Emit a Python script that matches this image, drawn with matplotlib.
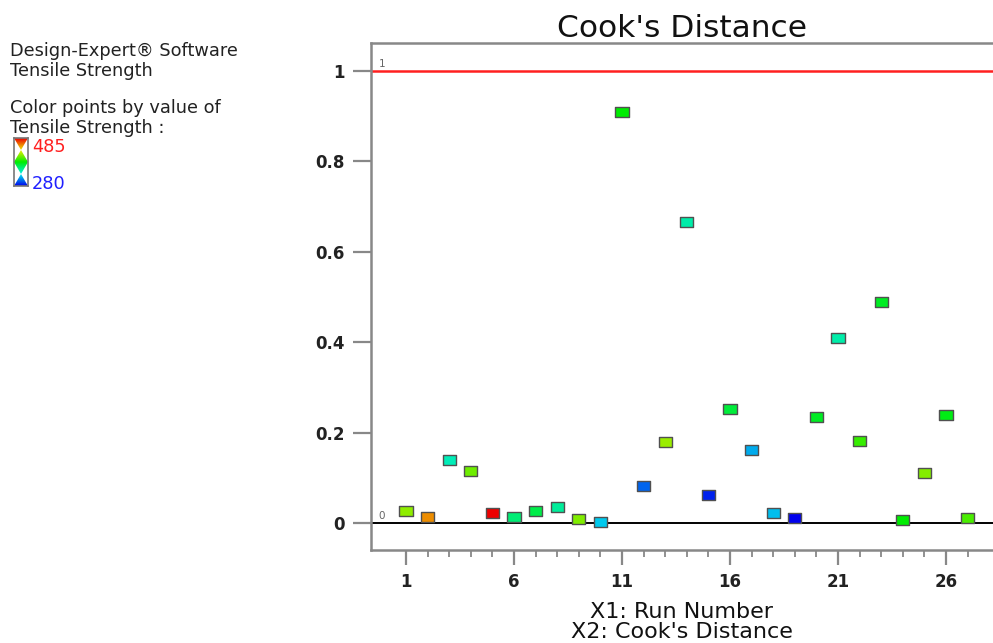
import colorsys
import numpy as np
import matplotlib
matplotlib.use("Agg")
import matplotlib.pyplot as plt
from matplotlib.colors import ListedColormap
from matplotlib.path import Path
from matplotlib.patches import PathPatch

# ---------------- data ----------------
run_number = list(range(1, 28))
cooks_distance = [0.027, 0.013, 0.140, 0.114, 0.022, 0.013, 0.027, 0.035, 0.008, 0.003,
                  0.909, 0.082, 0.180, 0.666, 0.062, 0.252, 0.161, 0.022, 0.011, 0.235,
                  0.409, 0.181, 0.489, 0.007, 0.110, 0.239, 0.011]
tensile_strength = [413, 454, 343, 406, 485, 357, 367, 349, 410, 324,
                    382, 302, 416, 346, 288, 370, 317, 321, 280, 375,
                    346, 394, 375, 382, 411, 378, 398]
strength_min, strength_max = 280, 485
x_ticks = [1, 6, 11, 16, 21, 26]
y_ticks = [0, 0.2, 0.4, 0.6, 0.8, 1]
y_tick_labels = ["0", "0.2", "0.4", "0.6", "0.8", "1"]
limit_upper = 1
limit_lower = 0

# ---------------- style ----------------
plt.rcParams['font.family'] = ['DejaVu Sans']
W, H = 993, 643
fig = plt.figure(figsize=(W / 100, H / 100), dpi=100)

def fx(px):
    return px / W

def fy(py):
    return 1 - py / H

# colour map: blue -> cyan -> green -> yellow -> red
hues = np.linspace(240 / 360, 0, 256)
cmap = ListedColormap([colorsys.hsv_to_rgb(h, 1.0, 0.93) for h in hues])

ax_left, ax_right, ax_top, ax_bottom = 371, 993, 43, 550
ax = fig.add_axes([fx(ax_left), fy(ax_bottom), fx(ax_right) - fx(ax_left),
                   fy(ax_top) - fy(ax_bottom)])

px_per_run = 21.6
ax.set_xlim(1 + (ax_left - 406) / px_per_run, 1 + (ax_right - 406) / px_per_run)
px_per_unit = 452
ax.set_ylim(-(ax_bottom - 523) / px_per_unit, 1 + (71 - ax_top) / px_per_unit)

# reference lines
ax.axhline(limit_upper, color='#ff2020', lw=1.8, zorder=1)
ax.axhline(limit_lower, color='black', lw=1.4, zorder=1)
ax.text(0.012, 1.005, "1", transform=ax.get_yaxis_transform(), fontsize=7.5,
        color='#666666', ha='left', va='bottom')
ax.text(0.012, 0.005, "0", transform=ax.get_yaxis_transform(), fontsize=7.5,
        color='#666666', ha='left', va='bottom')

rect = Path([(-1, -0.77), (1, -0.77), (1, 0.77), (-1, 0.77), (-1, -0.77)],
            [Path.MOVETO, Path.LINETO, Path.LINETO, Path.LINETO, Path.CLOSEPOLY])
ax.scatter(run_number, cooks_distance, c=tensile_strength, cmap=cmap,
           vmin=strength_min, vmax=strength_max, marker=rect, s=9.4 ** 2,
           edgecolors='#505050', linewidths=1.0, zorder=3)

# axes styling
for side in ['left', 'top', 'bottom']:
    ax.spines[side].set_color('#888888')
    ax.spines[side].set_linewidth(1.8)
ax.spines['right'].set_visible(False)

ax.set_xticks(x_ticks)
ax.set_xticks(run_number, minor=True)
ax.set_yticks(y_ticks)
ax.set_yticklabels(y_tick_labels)
ax.tick_params(axis='x', which='major', direction='out', length=10.5, width=1.6,
               color='#888888', labelsize=12, pad=6)
ax.tick_params(axis='x', which='minor', direction='out', length=5, width=1.3,
               color='#888888')
ax.tick_params(axis='y', which='major', direction='out', length=13, width=1.6,
               color='#888888', labelsize=12, pad=6)
for lab in ax.get_xticklabels() + ax.get_yticklabels():
    lab.set_fontweight('bold')
    lab.set_color('#222222')

ax.set_title("Cook's Distance", fontsize=22.5, pad=1, color='#111111')
ax.set_xlabel("X1: Run Number\nX2: Cook's Distance", fontsize=16,
              linespacing=0.98, labelpad=8, color='#111111')

# ---------------- left-hand info text ----------------
txt_kw = dict(fontsize=12.8, color='#222222', ha='left', va='center')
fig.text(fx(10), fy(51), "Design-Expert® Software", **txt_kw)
fig.text(fx(10), fy(71), "Tensile Strength", **txt_kw)
fig.text(fx(10), fy(108), "Color points by value of", **txt_kw)
fig.text(fx(10), fy(128), "Tensile Strength :", **txt_kw)
fig.text(fx(32), fy(147), str(strength_max), fontsize=12.8, color='#ff2020',
         ha='left', va='center')
fig.text(fx(32), fy(184), str(strength_min), fontsize=12.8, color='#2020ff',
         ha='left', va='center')

# colour key icon
kax = fig.add_axes([fx(14), fy(186), fx(28) - fx(14), fy(138) - fy(186)])
grad = np.linspace(0, 1, 200).reshape(-1, 1)
im = kax.imshow(grad, cmap=cmap, origin='lower', extent=[0, 1, 0, 1], aspect='auto')
shape = Path([(0, 1), (1, 1), (0.5, 0.75), (1, 0.5), (0.5, 0.25), (1, 0),
              (0, 0), (0.5, 0.25), (0, 0.5), (0.5, 0.75), (0, 1)])
patch = PathPatch(shape, transform=kax.transData, facecolor='none', edgecolor='none')
kax.add_patch(patch)
im.set_clip_path(patch)
kax.set_xlim(0, 1)
kax.set_ylim(0, 1)
kax.set_xticks([])
kax.set_yticks([])
for s in kax.spines.values():
    s.set_color('#777777')
    s.set_linewidth(1.2)

fig.savefig("out.png", dpi=100)
